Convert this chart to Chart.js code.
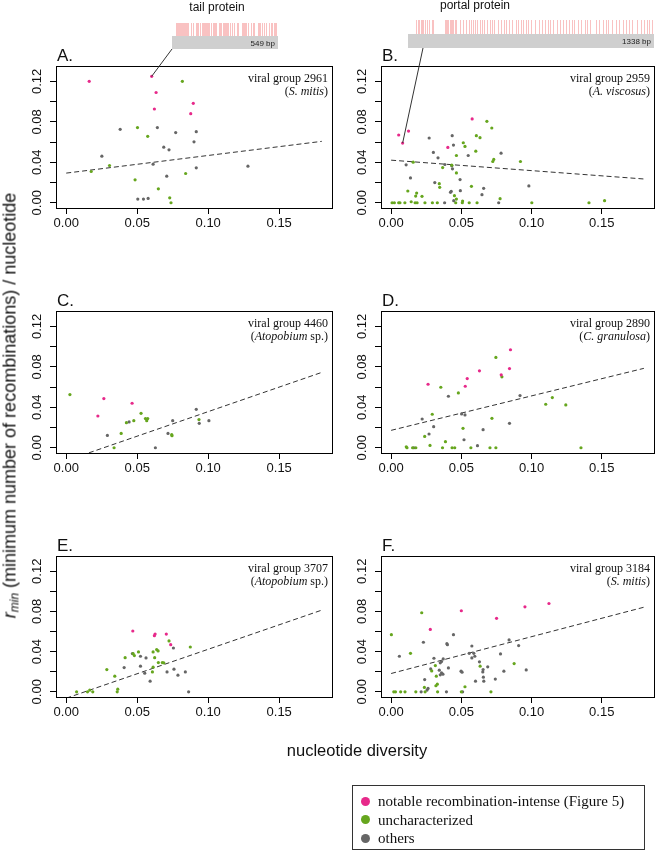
<!DOCTYPE html>
<html>
<head>
<meta charset="utf-8">
<script src="https://cdn.jsdelivr.net/npm/chart.js@4.4.0/dist/chart.umd.min.js"></script>
<style>
  body { margin: 0; background: #fff; width: 658px; height: 853px; position: relative; overflow: hidden;
         font-family: "Liberation Sans", Arial, sans-serif; color: #111; }
  canvas.panel { position: absolute; left: 0; top: 0; }
  #ylab { position: absolute; left: -238px; top: 392px; width: 500px; line-height: 22px; text-align: center;
          font-size: 18px; white-space: nowrap; transform: rotate(-90deg); }
  #ylab sub { font-size: 12px; vertical-align: -3px; }
  #xlab { position: absolute; left: 157px; top: 740px; width: 400px; line-height: 20px; text-align: center;
          font-size: 16.5px; }
  #legend { position: absolute; left: 352px; top: 785px; width: 293px; height: 65px; box-sizing: border-box;
            border: 1px solid #333; font-family: "Liberation Serif", "Times New Roman", serif; font-size: 15px; }
  #legend .row { position: absolute; left: 0; height: 18px; line-height: 18px; white-space: nowrap; }
  #legend .dot { position: absolute; left: 8px; top: 4.5px; width: 9px; height: 9px; border-radius: 50%; }
  #legend .txt { position: absolute; left: 25px; top: 0; }
</style>
</head>
<body>
<canvas class="panel" id="pA" width="658" height="853"></canvas>
<canvas class="panel" id="pB" width="658" height="853"></canvas>
<canvas class="panel" id="pC" width="658" height="853"></canvas>
<canvas class="panel" id="pD" width="658" height="853"></canvas>
<canvas class="panel" id="pE" width="658" height="853"></canvas>
<canvas class="panel" id="pF" width="658" height="853"></canvas>
<div id="ylab"><i>r<sub>min</sub></i> (minimum number of recombinations) / nucleotide</div>
<div id="xlab">nucleotide diversity</div>
<div id="legend"></div>
<script>
// --------------------
// Data (nucleotide diversity, r_min)
// --------------------
const COLORS = { notable: "#e7298a", unchar: "#66a61e", others: "#666666" };
const legendLabels = ["notable recombination-intense (Figure 5)", "uncharacterized", "others"];

const panelLetters = ["A.", "B.", "C.", "D.", "E.", "F."];
const groupIds = ["2961", "2959", "4460", "2890", "3707", "3184"];
const hostNames = ["S. mitis", "A. viscosus", "Atopobium", "C. granulosa", "Atopobium", "S. mitis"];
const hostSuffix = ["", "", " sp.", "", " sp.", ""];

const xTicks = [0, 0.05, 0.10, 0.15];
const yTicks = [0, 0.02, 0.04, 0.06, 0.08, 0.10, 0.12];
const yLabelTicks = [0, 0.04, 0.08, 0.12];
const fitX = [0, 0.18];

// A: viral group 2961
const aNotable = [[0.0162,0.120],[0.0602,0.125],[0.0633,0.109],[0.0621,0.0927],[0.0895,0.0983],[0.0877,0.0881]];
const aUnchar = [[0.0818,0.120],[0.0502,0.0743],[0.0574,0.0657],[0.0176,0.0309],[0.0305,0.0368],[0.0485,0.0227],
  [0.0841,0.0289],[0.0649,0.0138],[0.0729,0.0049],[0.0738,0.0]];
const aOthers = [[0.038,0.0726],[0.0642,0.0743],[0.0771,0.0694],[0.0916,0.0703],[0.090,0.0602],[0.0251,0.046],
  [0.0687,0.0549],[0.0724,0.0523],[0.0612,0.0381],[0.0708,0.0263],[0.0916,0.0345],[0.128,0.0362],
  [0.0504,0.0036],[0.0544,0.0036],[0.0577,0.0043]];
const aFit = [0.0293, 0.0607];

// B: viral group 2959
const bNotable = [[0.0054,0.0670],[0.0124,0.0709],[0.0082,0.0590],[0.0577,0.0829],[0.0404,0.0547]];
const bUnchar = [[0.0682,0.0805],[0.0717,0.0739],[0.0607,0.0663],[0.0633,0.0643],[0.0514,0.0593],[0.0526,0.0557],
  [0.0603,0.0510],[0.0465,0.0467],[0.0157,0.0401],[0.0367,0.0348],[0.0432,0.0371],[0.0465,0.0295],[0.0724,0.0408],
  [0.0731,0.0428],[0.0921,0.0408],[0.0119,0.0116],[0.0343,0.0189],[0.0346,0.0152],[0.0572,0.0162],[0.0451,0.0070],
  [0.0465,0.0036],[0.0182,0.0096],[0.0175,0.0066],[0.0220,0.0063],[0.0143,0.0010],[0.0776,0.0040],[0.152,0.002],
  [0.0509,0.0017],[0.0007,0],[0.0023,0],[0.0054,0],[0.0063,0],[0.0098,0],[0.0171,0],[0.0185,0],[0.0241,0],
  [0.0294,0],[0.0329,0],[0.046,0],[0.0507,0],[0.0556,0],[0.0612,0],[0.1002,0],[0.1409,0]];
const bOthers = [[0.0271,0.064],[0.0435,0.0663],[0.0301,0.0497],[0.0444,0.057],[0.0549,0.0467],[0.0334,0.0444],
  [0.0107,0.0375],[0.0383,0.0378],[0.0432,0.0365],[0.0437,0.0335],[0.0783,0.049],[0.0138,0.0245],[0.0491,0.0229],
  [0.0311,0.0199],[0.0428,0.0113],[0.0423,0.0103],[0.0493,0.0119],[0.0659,0.0143],[0.0647,0.008],[0.0981,0.0166],
  [0.0446,0.002],[0.0381,0],[0.0766,0]];
const bFit = [0.0421, 0.0235];

// C: viral group 4460
const cNotable = [[0.0265,0.0486],[0.0223,0.0314],[0.0464,0.044]];
const cUnchar = [[0.0026,0.0526],[0.0527,0.034],[0.0476,0.0268],[0.0424,0.0248],[0.0558,0.0288],[0.0574,0.0288],
  [0.0567,0.0268],[0.0387,0.0142],[0.0337,0],[0.0743,0.0129],[0.0745,0.0119],[0.0935,0.0278]];
const cOthers = [[0.0443,0.0255],[0.029,0.0122],[0.0628,0],[0.0717,0.0142],[0.075,0.0268],[0.0916,0.038],
  [0.0937,0.0241],[0.1005,0.0268]];
const cFit = [-0.0128, 0.0745];

// D: viral group 2890
const dNotable = [[0.0263,0.0628],[0.0542,0.0684],[0.0528,0.0608],[0.0629,0.076],[0.085,0.0969],[0.0843,0.0783],
  [0.0784,0.0721]];
const dUnchar = [[0.0746,0.0893],[0.0789,0.0701],[0.0354,0.0598],[0.0479,0.0542],[0.0293,0.0331],[0.0718,0.0291],
  [0.0512,0.0192],[0.0239,0.0112],[0.0277,0.0023],[0.0387,0.006],[0.0108,0.001],[0.0113,0],[0.0153,0],[0.0176,0],
  [0.0366,0],[0.0434,0],[0.0453,0],[0.0568,0],[0.0704,0],[0.0746,0],[0.1101,0.043],[0.1148,0.0496],
  [0.1244,0.0423],[0.1352,0]];
const dOthers = [[0.0408,0.0509],[0.0918,0.0516],[0.0221,0.0284],[0.0502,0.0334],[0.0526,0.0324],[0.0303,0.0208],
  [0.027,0.0136],[0.0519,0.0079],[0.0655,0.0179],[0.0843,0.0241],[0.0615,0.002],[0.0162,0]];
const dFit = [0.0172, 0.0785];

// E: viral group 3707
const eNotable = [[0.0469,0.0605],[0.0705,0.0575],[0.0621,0.0559],[0.0626,0.0575],[0.0736,0.0469]];
const eUnchar = [[0.0724,0.0506],[0.0874,0.0446],[0.0637,0.042],[0.0647,0.0407],[0.0471,0.038],[0.048,0.036],
  [0.0509,0.0397],[0.0612,0.0397],[0.0415,0.034],[0.0623,0.034],[0.0649,0.0291],[0.0677,0.0291],[0.0687,0.0288],
  [0.0286,0.0221],[0.0612,0.0245],[0.0607,0.0198],[0.0342,0.0155],[0.0363,0.0026],[0.0359,0],[0.0073,0],
  [0.015,0],[0.0187,0],[0.0166,0.0017]];
const eOthers = [[0.0755,0.0436],[0.0466,0.038],[0.0523,0.0354],[0.0562,0.0337],[0.0408,0.0241],[0.0523,0.0255],
  [0.0553,0.0185],[0.0591,0.0106],[0.0759,0.0225],[0.071,0.0198],[0.0787,0.0165],[0.0839,0.0198],[0.0862,0]];
const eFit = [-0.0064, 0.0813];

// F: viral group 3184
const fNotable = [[0.05,0.0807],[0.0953,0.0846],[0.1124,0.0879],[0.0751,0.0731],[0.0279,0.0621]];
const fUnchar = [[0.0218,0.0787],[0.0002,0.0569],[0.0138,0.0383],[0.0876,0.0281],[0.0315,0.0261],[0.0289,0.0208],
  [0.0322,0.0155],[0.0329,0.0076],[0.0319,0.006],[0.0526,0.005],[0.0237,0.0043],[0.0634,0.0255],[0.0019,0],
  [0.0031,0],[0.0068,0],[0.0099,0],[0.0176,0],[0.0242,0],[0.0331,0],[0.05,0],[0.0711,0]];
const fOthers = [[0.0444,0.0569],[0.023,0.0493],[0.0397,0.0479],[0.0401,0.0469],[0.0575,0.0456],[0.084,0.0516],
  [0.0908,0.046],[0.0059,0.0354],[0.0305,0.0334],[0.0371,0.0327],[0.0359,0.0301],[0.035,0.0288],[0.0589,0.0383],
  [0.0556,0.0383],[0.0596,0.0354],[0.0575,0.0337],[0.0629,0.0298],[0.0779,0.0377],[0.0688,0.0248],[0.0282,0.0228],
  [0.0343,0.0215],[0.0359,0.0188],[0.035,0.0169],[0.0369,0.0175],[0.0408,0.0238],[0.0498,0.0205],[0.0505,0.0195],
  [0.0655,0.0221],[0.0653,0.0198],[0.0803,0.0205],[0.0742,0.0126],[0.0962,0.0218],[0.0239,0.0122],[0.0601,0.0106],
  [0.0657,0.0145],[0.066,0.0106],[0.0256,0.0017],[0.0263,0.0033],[0.0214,0],[0.0394,0],[0.0509,0]];
const fFit = [0.0182, 0.0842];

// recombination sites along the two highlighted genes (bp)
const tailLength = 549;
const tailSites = [21,26,31,36,41,46,50,55,60,65,72,79,84,96,108,125,130,136,146,156,161,166,171,176,182,188,194,
  201,211,218,223,230,244,250,256,262,268,274,280,286,292,300,310,322,336,341,360,366,372,378,384,396,410,420,426,
  446,452,458,466,476,486,500,512,520,528,534,540];
const portalLength = 1338;
const portalSites = [45,52,60,68,76,84,94,104,116,128,136,201,207,214,220,226,233,240,247,253,259,285,300,318,330,
  342,352,364,378,390,404,416,428,445,458,470,490,505,520,535,552,568,585,600,616,628,640,655,668,690,712,728,745,
  760,772,790,810,828,842,860,875,890,905,925,940,960,975,990,1020,1040,1060,1075,1090,1110,1130,1150,1170,1185,
  1200,1220,1245,1265,1285,1300,1312,1325];

// --------------------
// Layout (pixel boxes of the six plot regions)
// --------------------
const colLeft = [56, 381], colRight = [332, 657];
const rowTop = [66, 311, 556], rowBottom = [208, 453, 697];
const Y_AXIS_W = 6, X_AXIS_H = 30;

const panels = [
  { id: "pA", data: [aNotable, aUnchar, aOthers], fit: aFit,
    inset: { name: "tail protein", len: tailLength, sites: tailSites, left: 172, right: 278, siteTop: 23,
             barTop: 36, barBottom: 49, labelX: 217, labelY: 8, from: [172, 49], toPoint: 1 } },
  { id: "pB", data: [bNotable, bUnchar, bOthers], fit: bFit,
    inset: { name: "portal protein", len: portalLength, sites: portalSites, left: 408, right: 654, siteTop: 20,
             barTop: 34, barBottom: 48, labelX: 475, labelY: 6, from: [423, 48], toPoint: 2 } },
  { id: "pC", data: [cNotable, cUnchar, cOthers], fit: cFit },
  { id: "pD", data: [dNotable, dUnchar, dOthers], fit: dFit },
  { id: "pE", data: [eNotable, eUnchar, eOthers], fit: eFit },
  { id: "pF", data: [fNotable, fUnchar, fOthers], fit: fFit }
];

Chart.defaults.font.family = '"Liberation Sans", Arial, sans-serif';
Chart.defaults.color = "#111";

const SERIF = '"Liberation Serif", "Times New Roman", serif';

// R-style box, rotated y labels, letter and group caption
const rFrame = {
  id: "rFrame",
  afterDraw(chart, args, o) {
    const { ctx, chartArea: a, scales: { y } } = chart;
    ctx.save();
    ctx.strokeStyle = "#000";
    ctx.lineWidth = 1;
    ctx.strokeRect(Math.round(a.left) + 0.5, Math.round(a.top) + 0.5,
                   Math.round(a.right - a.left), Math.round(a.bottom - a.top));

    ctx.fillStyle = "#111";
    ctx.font = '13px "Liberation Sans"';
    ctx.textAlign = "center";
    ctx.textBaseline = "middle";
    yLabelTicks.forEach(v => {
      ctx.save();
      ctx.translate(a.left - 18.5, y.getPixelForValue(v));
      ctx.rotate(-Math.PI / 2);
      ctx.fillText(v.toFixed(2), 0, 0);
      ctx.restore();
    });

    ctx.font = '17px "Liberation Sans"';
    ctx.textAlign = "left";
    ctx.textBaseline = "alphabetic";
    ctx.fillText(o.letter, a.left + 1, a.top - 5);

    // caption, right aligned in the top-right corner
    ctx.textBaseline = "middle";
    ctx.font = "12px " + SERIF;
    ctx.textAlign = "right";
    ctx.fillText("viral group " + o.group, a.right - 4, a.top + 13);
    const plain = "12px " + SERIF, ital = "italic 12px " + SERIF;
    const parts = [["(", plain], [o.host, ital], [o.suffix + ")", plain]];
    let w = 0;
    parts.forEach(p => { ctx.font = p[1]; w += ctx.measureText(p[0]).width; });
    let px = a.right - 4 - w;
    ctx.textAlign = "left";
    parts.forEach(p => { ctx.font = p[1]; ctx.fillText(p[0], px, a.top + 26); px += ctx.measureText(p[0]).width; });
    ctx.restore();
  }
};

// gene diagram with recombination sites, linked to one point
const geneInset = {
  id: "geneInset",
  afterDraw(chart, args, o) {
    if (!o || !o.name) return;
    const { ctx, scales: { x, y } } = chart;
    ctx.save();
    ctx.font = '12px "Liberation Sans"';
    ctx.fillStyle = "#111";
    ctx.textAlign = "center";
    ctx.textBaseline = "middle";
    ctx.fillText(o.name, o.labelX, o.labelY);

    ctx.strokeStyle = "rgba(240, 110, 110, 0.42)";
    ctx.lineWidth = 1;
    o.sites.forEach(bp => {
      const sx = Math.round(o.left + (bp / o.len) * (o.right - o.left)) + 0.5;
      ctx.beginPath();
      ctx.moveTo(sx, o.siteTop);
      ctx.lineTo(sx, o.barTop);
      ctx.stroke();
    });

    ctx.fillStyle = "#cfcfcf";
    ctx.fillRect(o.left, o.barTop, o.right - o.left, o.barBottom - o.barTop);
    ctx.fillStyle = "#222";
    ctx.font = '8px "Liberation Sans"';
    ctx.textAlign = "right";
    ctx.fillText(o.len + " bp", o.right - 3, (o.barTop + o.barBottom) / 2 + 1);

    const pt = chart.data.datasets[0].data[o.toPoint];
    ctx.strokeStyle = "#333";
    ctx.beginPath();
    ctx.moveTo(o.from[0], o.from[1]);
    ctx.lineTo(x.getPixelForValue(pt.x), y.getPixelForValue(pt.y));
    ctx.stroke();
    ctx.restore();
  }
};

const toXY = arr => arr.map(p => ({ x: p[0], y: p[1] }));

panels.forEach((p, i) => {
  const col = i % 2, row = Math.floor(i / 2);
  const groups = [
    { label: legendLabels[0], pts: p.data[0], color: COLORS.notable },
    { label: legendLabels[1], pts: p.data[1], color: COLORS.unchar },
    { label: legendLabels[2], pts: p.data[2], color: COLORS.others }
  ];
  const datasets = groups.map(g => ({
    label: g.label, data: toXY(g.pts), backgroundColor: g.color, borderWidth: 0, pointRadius: 1.6
  }));
  datasets.push({
    label: "fit", data: fitX.map((xv, k) => ({ x: xv, y: p.fit[k] })), showLine: true, clip: 0,
    borderColor: "#333", borderWidth: 1, borderDash: [5, 3], pointRadius: 0
  });

  new Chart(document.getElementById(p.id), {
    type: "scatter",
    data: { datasets },
    options: {
      responsive: false,
      animation: false,
      events: [],
      layout: {
        padding: {
          left: colLeft[col] - Y_AXIS_W, right: 658 - colRight[col],
          top: rowTop[row], bottom: 853 - rowBottom[row] - X_AXIS_H
        }
      },
      scales: {
        x: {
          type: "linear", min: -0.0072, max: 0.1872,
          afterBuildTicks: s => { s.ticks = xTicks.map(v => ({ value: v })); },
          afterFit: s => { s.height = X_AXIS_H; },
          border: { display: false },
          grid: { drawOnChartArea: false, drawTicks: true, tickLength: 6, color: "#000" },
          ticks: { font: { size: 13 }, color: "#111", padding: 2, maxRotation: 0,
                   callback: v => v.toFixed(2) }
        },
        y: {
          type: "linear", min: -0.0052, max: 0.1352,
          afterBuildTicks: s => { s.ticks = yTicks.map(v => ({ value: v })); },
          afterFit: s => { s.width = Y_AXIS_W; },
          border: { display: false },
          grid: { drawOnChartArea: false, drawTicks: true, tickLength: 6, color: "#000" },
          ticks: { display: false }
        }
      },
      plugins: {
        legend: { display: false },
        tooltip: { enabled: false },
        rFrame: { letter: panelLetters[i], group: groupIds[i], host: hostNames[i], suffix: hostSuffix[i] },
        geneInset: p.inset || {}
      }
    },
    plugins: [rFrame, geneInset]
  });
});

// --------------------
// Shared legend
// --------------------
const legend = document.getElementById("legend");
[COLORS.notable, COLORS.unchar, COLORS.others].forEach((c, k) => {
  const row = document.createElement("div");
  row.className = "row";
  row.style.top = (6 + k * 18.5) + "px";
  row.innerHTML = `<span class="dot" style="background:${c}"></span><span class="txt">${legendLabels[k]}</span>`;
  legend.appendChild(row);
});
</script>
</body>
</html>
